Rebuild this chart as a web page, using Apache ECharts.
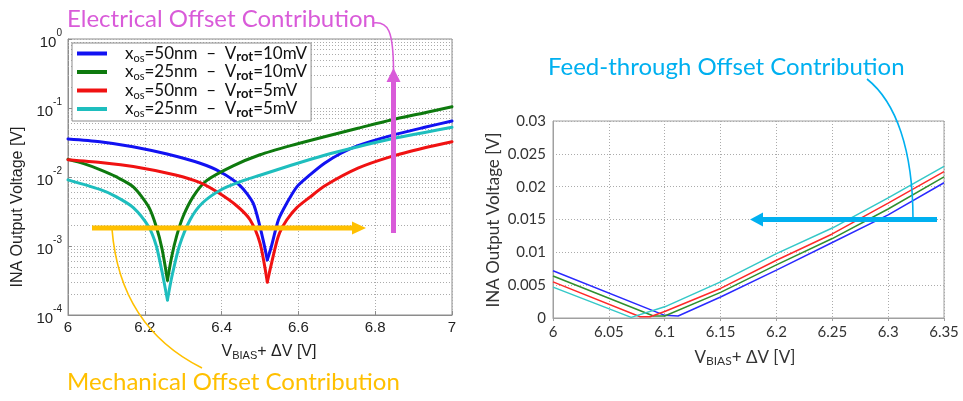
<!DOCTYPE html>
<html>
<head>
<meta charset="utf-8">
<script src="https://cdn.jsdelivr.net/npm/echarts@6/dist/echarts.min.js"></script>
<style>
html, body { margin: 0; padding: 0; background: #ffffff; }
#chart { width: 963px; height: 401px; }
</style>
</head>
<body>
<div id="chart"></div>
<script>
// ---- legend text pieces ----
const xosLabels = ['50nm', '25nm', '50nm', '25nm'];
const vrotLabels = ['10mV', '10mV', '5mV', '5mV'];
const lineColors = ['#1212f2', '#0e7a0e', '#f01212', '#1ebebe'];
const thinColors = ['#2a2aff', '#2f8f2f', '#ff2a2a', '#35c8c8'];

// ---- left panel (log scale): bias voltage [V] vs |output| [V] ----
const logBlueX = [6.00, 6.083, 6.169, 6.258, 6.344, 6.396, 6.448, 6.482, 6.50, 6.51, 6.519, 6.53, 6.548, 6.57, 6.596, 6.63, 6.668, 6.711, 6.755, 6.841, 6.929, 7.00];
const logBlueY = [0.0356, 0.0325, 0.0275, 0.0215, 0.0158, 0.0119, 0.0075, 0.0042, 0.0019, 0.0011, 0.00063, 0.0010, 0.0024, 0.0042, 0.0072, 0.0107, 0.0158, 0.0221, 0.0285, 0.0398, 0.0525, 0.0648];

const logGreenX = [6.00, 6.041, 6.083, 6.125, 6.17, 6.21, 6.23, 6.245, 6.259, 6.27, 6.283, 6.30, 6.326, 6.36, 6.43, 6.50, 6.58, 6.668, 6.755, 6.841, 6.929, 7.00];
const logGreenY = [0.0180, 0.0156, 0.0128, 0.0101, 0.0072, 0.0037, 0.0019, 0.0009, 0.00032, 0.0007, 0.0014, 0.0027, 0.0052, 0.0088, 0.0145, 0.0210, 0.0285, 0.0384, 0.0508, 0.0670, 0.0855, 0.1045];

const logRedX = [6.00, 6.085, 6.17, 6.28, 6.344, 6.39, 6.44, 6.474, 6.50, 6.519, 6.53, 6.548, 6.57, 6.596, 6.63, 6.668, 6.755, 6.841, 6.929, 7.00];
const logRedY = [0.0178, 0.0162, 0.0142, 0.0107, 0.0083, 0.0060, 0.0038, 0.0024, 0.0011, 0.0003, 0.00056, 0.0014, 0.0024, 0.0036, 0.0051, 0.0074, 0.0134, 0.0197, 0.0265, 0.0325];

const logCyanX = [6.00, 6.083, 6.125, 6.17, 6.21, 6.23, 6.245, 6.259, 6.27, 6.29, 6.318, 6.35, 6.40, 6.46, 6.50, 6.581, 6.668, 6.755, 6.841, 6.929, 7.00];
const logCyanY = [0.0091, 0.0066, 0.0052, 0.0036, 0.0019, 0.0010, 0.00042, 0.000165, 0.00035, 0.0010, 0.0024, 0.0042, 0.0066, 0.0090, 0.0106, 0.0148, 0.0207, 0.0275, 0.0355, 0.0442, 0.0525];

// ---- right panel (linear scale) ----
const linBlueX = [6.00, 6.10, 6.112, 6.15, 6.20, 6.25, 6.30, 6.35];
const linBlueY = [0.0072, 0.0004, 0.0003, 0.0032, 0.0073, 0.0115, 0.0157, 0.0206];
const linGreenX = [6.00, 6.09, 6.10, 6.15, 6.20, 6.25, 6.30, 6.35];
const linGreenY = [0.0064, 0.0003, 0.0003, 0.0039, 0.0081, 0.0121, 0.0166, 0.0215];
const linRedX = [6.00, 6.078, 6.087, 6.10, 6.15, 6.20, 6.25, 6.30, 6.35];
const linRedY = [0.0055, 0.0002, 0.0002, 0.0010, 0.0045, 0.0088, 0.0128, 0.0175, 0.0223];
const linCyanX = [6.00, 6.07, 6.10, 6.15, 6.20, 6.25, 6.30, 6.35];
const linCyanY = [0.0047, 0.0001, 0.0017, 0.0055, 0.0098, 0.0137, 0.0183, 0.0231];

// ---- axis ranges / ticks ----
const leftXRange = { min: 6, max: 7, interval: 0.2 };
const leftYRange = { min: 1e-4, max: 1 };
const logMinorMultipliers = [2, 3, 4, 5, 6, 7, 8, 9];
const logDecades = [1e-4, 1e-3, 1e-2, 1e-1];
const rightXRange = { min: 6, max: 6.35, interval: 0.05 };
const rightYRange = { min: 0, max: 0.03, interval: 0.005 };

const seriesNames = xosLabels.map((x, i) => 'xos=' + x + ' - Vrot=' + vrotLabels[i]);
const zip = (xs, ys) => xs.map((x, i) => [x, ys[i]]);

const logSets = [[logBlueX, logBlueY], [logGreenX, logGreenY], [logRedX, logRedY], [logCyanX, logCyanY]];
const linSets = [[linBlueX, linBlueY], [linGreenX, linGreenY], [linRedX, linRedY], [linCyanX, linCyanY]];

const minorLevels = [];
logDecades.forEach(d => logMinorMultipliers.forEach(m => minorLevels.push(d * m)));

const LEFT_FONT = '"Liberation Sans", Arial, sans-serif';
const RIGHT_FONT = 'Lato, "Open Sans", sans-serif';
const GRID_DOT = '#ababab';

const chart = echarts.init(document.getElementById('chart'), null, { renderer: 'canvas' });

const series = [];
// each log curve is drawn as two smoothed branches that meet at its sharp minimum
logSets.forEach((s, i) => {
  const pts = zip(s[0], s[1]);
  let iMin = 0;
  pts.forEach((p, k) => { if (p[1] < pts[iMin][1]) iMin = k; });
  [pts.slice(0, iMin + 1), pts.slice(iMin)].forEach((branch, b) => {
    const ser = {
      name: seriesNames[i], type: 'line', xAxisIndex: 0, yAxisIndex: 0,
      data: branch, showSymbol: false, symbol: 'none', smooth: 0.25,
      color: lineColors[i], lineStyle: { width: 3, color: lineColors[i], cap: 'round', join: 'round' }, z: 3 + i,
      emphasis: { disabled: true }
    };
    if (i === 0 && b === 0) {
      // dotted minor grid of the log panel (2..9 in each decade)
      ser.markLine = {
        silent: true, z: 1, symbol: ['none', 'none'], label: { show: false },
        lineStyle: { type: [1, 2], color: GRID_DOT, width: 1 },
        emphasis: { disabled: true },
        data: minorLevels.map(v => [{ coord: [leftXRange.min, v] }, { coord: [leftXRange.max, v] }])
      };
    }
    series.push(ser);
  });
});
linSets.forEach((s, i) => {
  series.push({
    name: seriesNames[i], type: 'line', xAxisIndex: 1, yAxisIndex: 1,
    data: zip(s[0], s[1]), showSymbol: false, symbol: 'none',
    color: thinColors[i], lineStyle: { width: 1.5, color: thinColors[i] }, z: 3 + i,
    emphasis: { disabled: true }
  });
});

const legendRich = {
  x: { fontFamily: RIGHT_FONT, fontSize: 17, color: '#111', padding: [0, 0, 0, 13], lineHeight: 20 },
  os: { fontFamily: RIGHT_FONT, fontSize: 11, color: '#111', verticalAlign: 'bottom', lineHeight: 14 },
  t: { fontFamily: RIGHT_FONT, fontSize: 17, color: '#111', lineHeight: 20 },
  rot: { fontFamily: RIGHT_FONT, fontSize: 13, fontWeight: 'bold', color: '#111', verticalAlign: 'bottom', lineHeight: 15 }
};

function arrowH(x1, x2, y, color, w, headLen, headHalf) {
  // horizontal arrow from x1 to tip x2
  const dir = x2 > x1 ? 1 : -1;
  const base = x2 - dir * headLen;
  return [
    { type: 'line', z: 50, shape: { x1: x1, y1: y, x2: base, y2: y }, style: { stroke: color, lineWidth: w } },
    { type: 'polygon', z: 50, shape: { points: [[x2, y], [base, y - headHalf], [base, y + headHalf]] }, style: { fill: color } }
  ];
}
function arrowV(y1, y2, x, color, w, headLen, headHalf) {
  const dir = y2 > y1 ? 1 : -1;
  const base = y2 - dir * headLen;
  return [
    { type: 'line', z: 50, shape: { x1: x, y1: y1, x2: x, y2: base }, style: { stroke: color, lineWidth: w } },
    { type: 'polygon', z: 50, shape: { points: [[x, y2], [x - headHalf, base], [x + headHalf, base]] }, style: { fill: color } }
  ];
}

const MAGENTA = '#d95bd9';
const ORANGE = '#ffc000';
const SKY = '#00b0f0';
const TITLE_FONT = '24px ' + RIGHT_FONT;

const graphics = [
  // annotation titles
  { type: 'text', z: 60, style: { x: 67, y: 19, text: 'Electrical Offset Contribution', font: TITLE_FONT, fill: MAGENTA, align: 'left', verticalAlign: 'middle', textAlign: 'left', textVerticalAlign: 'middle' } },
  { type: 'text', z: 60, style: { x: 67, y: 382, text: 'Mechanical Offset Contribution', font: TITLE_FONT, fill: ORANGE, align: 'left', verticalAlign: 'middle', textAlign: 'left', textVerticalAlign: 'middle' } },
  { type: 'text', z: 60, style: { x: 548, y: 67, text: 'Feed-through Offset Contribution', font: TITLE_FONT, fill: SKY, align: 'left', verticalAlign: 'middle', textAlign: 'left', textVerticalAlign: 'middle' } },
  // connectors
  { type: 'bezierCurve', z: 55, shape: { x1: 373, y1: 23, cpx1: 388, cpy1: 21, cpx2: 393.5, cpy2: 30, x2: 393.5, y2: 72 }, style: { stroke: MAGENTA, lineWidth: 1.6, fill: null } },
  { type: 'bezierCurve', z: 55, shape: { x1: 112, y1: 229, cpx1: 118, cpy1: 305, cpx2: 158, cpy2: 346, x2: 202, y2: 368 }, style: { stroke: ORANGE, lineWidth: 1.6, fill: null } },
  { type: 'bezierCurve', z: 55, shape: { x1: 867, y1: 79, cpx1: 896, cpy1: 102, cpx2: 913, cpy2: 150, x2: 913, y2: 219 }, style: { stroke: SKY, lineWidth: 1.6, fill: null } },
  // axis titles
  { type: 'text', z: 60, rotation: Math.PI / 2, x: 18, y: 207, style: { x: 0, y: 0, text: 'INA Output Voltage [V]', font: '16px ' + LEFT_FONT, fill: '#222', align: 'center', verticalAlign: 'middle', textAlign: 'center', textVerticalAlign: 'middle' } },
  { type: 'text', z: 60, rotation: Math.PI / 2, x: 494, y: 220, style: { x: 0, y: 0, text: 'INA Output Voltage [V]', font: '17px ' + RIGHT_FONT, fill: '#333', align: 'center', verticalAlign: 'middle', textAlign: 'center', textVerticalAlign: 'middle' } },
  { type: 'text', z: 60, style: { x: 269, y: 352, text: '{v|V}{s|BIAS}{v|+ \u0394V [V]}', align: 'center', verticalAlign: 'middle', textAlign: 'center', textVerticalAlign: 'middle',
      rich: { v: { fontFamily: LEFT_FONT, fontSize: 16, fill: '#222', lineHeight: 18 }, s: { fontFamily: LEFT_FONT, fontSize: 11, fill: '#222', verticalAlign: 'bottom', lineHeight: 14 } } } },
  { type: 'text', z: 60, style: { x: 745, y: 358, text: '{v|V}{s|BIAS}{v|+ \u0394V [V]}', align: 'center', verticalAlign: 'middle', textAlign: 'center', textVerticalAlign: 'middle',
      rich: { v: { fontFamily: RIGHT_FONT, fontSize: 17, fill: '#333', lineHeight: 19 }, s: { fontFamily: RIGHT_FONT, fontSize: 12, fill: '#333', verticalAlign: 'bottom', lineHeight: 15 } } } }
]
  .concat(arrowV(233, 68, 393.5, MAGENTA, 5, 14, 7))
  .concat(arrowH(92, 366, 228, ORANGE, 5, 14, 6.5))
  .concat(arrowH(937, 750, 219.5, SKY, 5, 13, 7));

const option = {
  animation: false,
  backgroundColor: '#ffffff',
  grid: [
    { left: 68, top: 39, width: 384, height: 276, show: true, borderColor: '#8c8c8c', borderWidth: 1, backgroundColor: 'transparent' },
    { left: 553, top: 121, width: 391, height: 197, show: true, borderColor: '#a0a0a0', borderWidth: 1, backgroundColor: 'transparent' }
  ],
  legend: {
    data: seriesNames, orient: 'vertical', left: 72, top: 43,
    backgroundColor: '#ffffff', borderColor: '#8c8c8c', borderWidth: 1,
    padding: [2, 4, 2, 5], itemGap: 0, itemWidth: 30, itemHeight: 4, icon: 'rect',
    selectedMode: false, z: 20,
    formatter: name => {
      const i = seriesNames.indexOf(name);
      return '{x|x}{os|os}{t|=' + xosLabels[i] + '  \u2013  V}{rot|rot}{t|=' + vrotLabels[i] + '}';
    },
    textStyle: { fontFamily: RIGHT_FONT, fontSize: 17, color: '#111', rich: legendRich }
  },
  xAxis: [
    {
      type: 'value', gridIndex: 0, min: leftXRange.min, max: leftXRange.max, interval: leftXRange.interval,
      axisLine: { show: true, lineStyle: { color: '#8c8c8c' } },
      axisTick: { show: true, inside: true, length: 4, lineStyle: { color: '#8c8c8c' } },
      splitLine: { show: true, lineStyle: { type: [1, 2], color: GRID_DOT } },
      axisLabel: { fontFamily: LEFT_FONT, fontSize: 15, color: '#222', margin: 5 }
    },
    {
      type: 'value', gridIndex: 1, min: rightXRange.min, max: rightXRange.max, interval: rightXRange.interval,
      axisLine: { show: true, lineStyle: { color: '#a0a0a0' } },
      axisTick: { show: true, inside: false, length: 3, lineStyle: { color: '#a0a0a0' } },
      splitLine: { show: true, lineStyle: { type: [1, 2], color: GRID_DOT } },
      axisLabel: { fontFamily: RIGHT_FONT, fontSize: 15, color: '#333', margin: 7, showMaxLabel: true, showMinLabel: true }
    }
  ],
  yAxis: [
    {
      type: 'log', logBase: 10, gridIndex: 0, min: leftYRange.min, max: leftYRange.max,
      axisLine: { show: true, lineStyle: { color: '#8c8c8c' } },
      axisTick: { show: true, inside: true, length: 4, lineStyle: { color: '#8c8c8c' } },
      splitLine: { show: true, lineStyle: { type: [1, 2], color: GRID_DOT } },
      axisLabel: {
        margin: 6,
        formatter: v => {
          const e = Math.round(Math.log10(v));
          return '{b|10}{e|' + (e < 0 ? '-' + (-e) : String(e)) + '}';
        },
        rich: {
          b: { fontFamily: LEFT_FONT, fontSize: 15, color: '#222', lineHeight: 22, verticalAlign: 'bottom' },
          e: { fontFamily: LEFT_FONT, fontSize: 10, color: '#222', lineHeight: 12, verticalAlign: 'top' }
        }
      }
    },
    {
      type: 'value', gridIndex: 1, min: rightYRange.min, max: rightYRange.max, interval: rightYRange.interval,
      axisLine: { show: true, lineStyle: { color: '#a0a0a0' } },
      axisTick: { show: false },
      splitLine: { show: true, lineStyle: { type: [1, 2], color: GRID_DOT } },
      axisLabel: { fontFamily: RIGHT_FONT, fontSize: 15, color: '#333', margin: 7 }
    }
  ],
  series: series,
  graphic: graphics
};

chart.setOption(option);
</script>
</body>
</html>
